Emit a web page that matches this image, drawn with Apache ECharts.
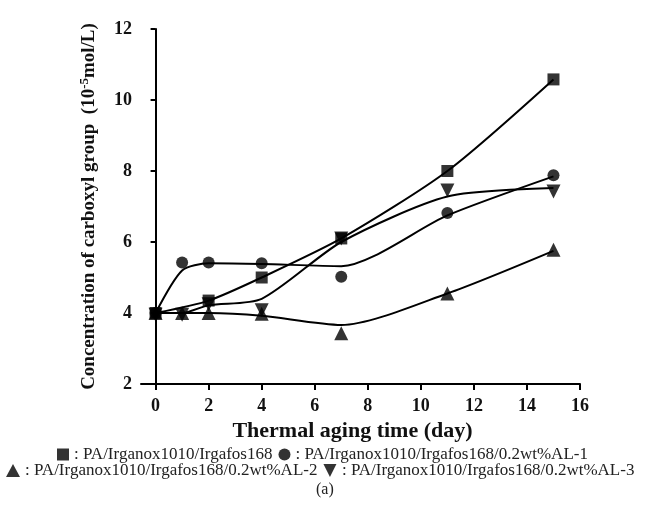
<!DOCTYPE html>
<html lang="en">
<head>
    <meta charset="UTF-8">
    <title>carboxyl group</title>
    <script type="text/javascript" src="https://cdn.jsdelivr.net/npm/echarts@6/dist/echarts.min.js"></script>
    <style>
        html, body {margin: 0; padding: 0; background: #fff;}
        #charts {width: 646px; height: 506px;}
    </style>
</head>
<body>
<div id="charts"></div>
<script>
    // 数据
    var xTicks = [0, 2, 4, 6, 8, 10, 12, 14, 16]
    var names = ['PA/Irganox1010/Irgafos168',
        'PA/Irganox1010/Irgafos168/0.2wt%AL-1',
        'PA/Irganox1010/Irgafos168/0.2wt%AL-2',
        'PA/Irganox1010/Irgafos168/0.2wt%AL-3']
    var daysSquare = [0, 2, 4, 7, 11, 15]
    var daysAll = [0, 1, 2, 4, 7, 11, 15]
    var square = [4.0, 4.35, 5.0, 6.1, 8.0, 10.58]
    var squareFit = [4.0, 4.35, 5.0, 6.1, 8.0, 10.58]
    var circle = [4.0, 5.42, 5.42, 5.4, 5.02, 6.82, 7.88]
    var circleFit = [4.0, 5.2, 5.4, 5.38, 5.32, 6.75, 7.85]
    var triUp = [4.0, 4.0, 4.0, 3.98, 3.43, 4.55, 5.78]
    var triUpFit = [4.0, 4.0, 4.0, 3.92, 3.66, 4.55, 5.75]
    var triDown = [3.95, 3.95, 4.25, 4.08, 6.1, 7.45, 7.42]
    var triDownFit = [4.0, 4.0, 4.22, 4.4, 6.0, 7.28, 7.52]

    function pairs(xs, ys) {
        return xs.map(function (x, i) { return [x, ys[i]] })
    }

    var font = 'Liberation Serif'
    var marks = [
        {name: names[0], xs: daysSquare, ys: square, fit: squareFit, symbol: 'rect', size: 12, rot: 0},
        {name: names[1], xs: daysAll, ys: circle, fit: circleFit, symbol: 'circle', size: 12, rot: 0},
        {name: names[2], xs: daysAll, ys: triUp, fit: triUpFit, symbol: 'triangle', size: 14, rot: 0},
        {name: names[3], xs: daysAll, ys: triDown, fit: triDownFit, symbol: 'triangle', size: 14, rot: 180}
    ]
    var series = []
    marks.forEach(function (m) {
        series.push({
            type: 'line', data: pairs(m.xs, m.fit), smooth: 0.25, showSymbol: false,
            lineStyle: {color: '#000', width: 2}, silent: true, z: 2
        })
        series.push({
            name: m.name, type: 'scatter', data: pairs(m.xs, m.ys), symbol: m.symbol,
            symbolSize: m.size, symbolRotate: m.rot, itemStyle: {color: '#000'}, z: 3
        })
    })

    var legendText = {fontFamily: font, fontSize: 17, color: '#222'}
    var chart = echarts.init(document.getElementById('charts'), null, {renderer: 'canvas'})
    chart.setOption({
        animation: false,
        grid: {left: 141, right: 66, top: 29, bottom: 122},
        xAxis: {
            type: 'value', min: -0.55, max: 16,
            name: 'Thermal aging time (day)', nameLocation: 'middle', nameGap: 32,
            nameTextStyle: {fontFamily: font, fontSize: 22, fontWeight: 'bold', color: '#111', padding: [0, 16, 0, 0]},
            axisLine: {lineStyle: {color: '#000', width: 2}},
            axisTick: {customValues: xTicks, length: 6, lineStyle: {color: '#000', width: 2}},
            axisLabel: {customValues: xTicks, margin: 13, fontFamily: font, fontSize: 18, fontWeight: 'bold', color: '#111'},
            splitLine: {show: false}
        },
        yAxis: {
            type: 'value', min: 2, max: 12, interval: 2,
            name: 'Concentration of carboxyl group  (10{sup|-5}mol/L)', nameLocation: 'middle', nameGap: 41,
            nameTextStyle: {
                fontFamily: font, fontSize: 19, fontWeight: 'bold', color: '#111',
                rich: {sup: {fontFamily: font, fontSize: 13, fontWeight: 'bold', color: '#111', verticalAlign: 'top', padding: [0, 0, 9, 0]}}
            },
            axisLine: {lineStyle: {color: '#000', width: 2}},
            axisTick: {length: 5, lineStyle: {color: '#000', width: 2}},
            axisLabel: {margin: 9, fontFamily: font, fontSize: 18, fontWeight: 'bold', color: '#111'},
            splitLine: {show: false}
        },
        legend: [
            {
                data: [names[0], names[1]], left: 57, top: 446, itemWidth: 12, itemHeight: 12, itemGap: 6,
                formatter: function (n) { return ': ' + n }, textStyle: legendText, padding: 0
            },
            {
                data: [{name: names[2], icon: 'triangle'}, {name: names[3], icon: 'path://M0,0 L10,0 L5,10 Z'}],
                left: 6, top: 462, itemWidth: 14, itemHeight: 13, itemGap: 6,
                formatter: function (n) { return ': ' + n }, textStyle: legendText, padding: 0
            }
        ],
        graphic: [{
            type: 'text', left: 316, top: 482,
            style: {text: '(a)', fontFamily: font, fontSize: 16, fill: '#222'}
        }],
        series: series
    })
</script>
</body>
</html>
